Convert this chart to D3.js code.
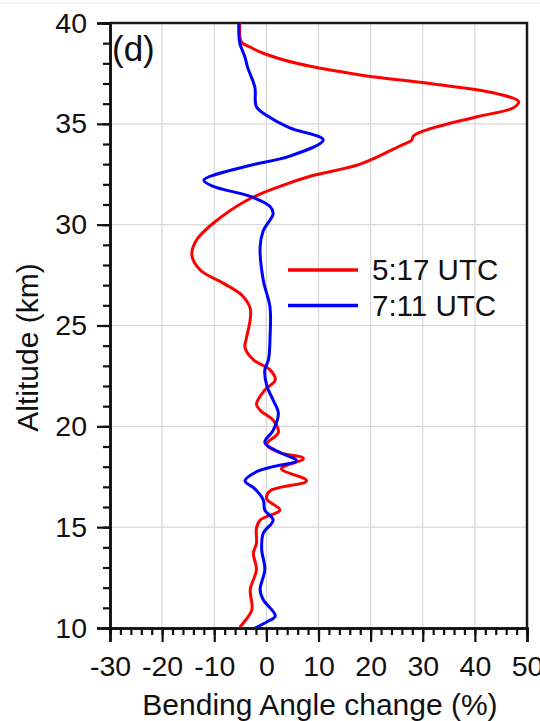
<!DOCTYPE html>
<html>
<head>
<meta charset="utf-8">
<script src="https://cdn.jsdelivr.net/npm/d3@7"></script>
<style>
body { margin: 0; background: #fff; }
text { font-family: Arial, "Liberation Sans", sans-serif; fill: #111; }
</style>
</head>
<body>
<div class="chart"></div>
<script>
// 5:17 UTC profile (altitude km, bending angle change %)
const redAlt = [40.0, 39.2, 39.0, 38.8, 38.5, 38.0, 37.4, 37.0, 36.5, 36.1, 35.8, 35.35, 34.7, 34.4, 34.2, 33.9, 33.0, 32.4, 31.9, 31.2, 30.07, 29.24, 28.5, 27.75, 27.1, 26.5, 25.85, 25.3, 24.4, 23.9, 23.3, 22.8, 22.3, 21.8, 21.1, 20.8, 20.3, 19.7, 19.1, 18.7, 18.4, 17.9, 17.3, 16.8, 16.4, 15.85, 15.35, 14.95, 14.2, 13.7, 12.9, 11.9, 10.9, 10.05]
const redVal = [-5.1, -5.0, -4.6, -3.1, -0.6, 5.8, 18.6, 31.4, 44.2, 48.4, 47.4, 40.4, 30.8, 28.2, 27.9, 25.6, 18.0, 8.4, 2.6, -3.8, -10.2, -13.4, -14.3, -12.7, -8.3, -4.7, -3.1, -3.1, -3.8, -4.1, -2.5, 0.7, 1.7, -0.3, -1.9, -1.2, 1.3, 2.3, 0.05, 2.6, 7.1, 2.9, 7.7, 0.7, 0.05, 2.6, -1.2, -1.9, -1.9, -2.5, -1.9, -3.1, -2.8, -5.1]

// 7:11 UTC profile
const blueAlt = [40.0, 39.0, 38.3, 37.8, 36.8, 35.85, 35.3, 34.8, 34.2, 33.4, 32.9, 32.2, 31.9, 31.4, 30.9, 30.55, 29.7, 28.9, 27.25, 25.9, 24.4, 23.3, 22.8, 22.0, 21.3, 20.65, 19.8, 19.2, 18.7, 18.3, 18.0, 17.75, 17.3, 16.9, 16.35, 15.85, 15.35, 14.7, 13.9, 12.9, 11.9, 11.4, 10.6, 10.3, 10.0]
const blueVal = [-5.3, -5.1, -4.1, -3.6, -2.2, -1.9, 0.8, 4.5, 10.9, 4.5, -3.8, -12.0, -10.2, -3.1, 0.7, 1.3, -0.6, -1.2, -0.6, 0.7, 0.7, 0.4, -0.3, 0.1, 1.3, 2.3, 1.3, -0.3, 2.6, 5.8, 1.3, -1.9, -4.1, -2.2, -0.6, -0.3, 1.3, -0.6, -0.9, -0.3, -1.2, -0.6, 1.7, 0.05, -2.2]

const seriesNames = ['5:17 UTC', '7:11 UTC']
const seriesColors = ['#ff0000', '#0000ff']
const xTicks = [-30, -20, -10, 0, 10, 20, 30, 40, 50]
const yTicks = [10, 15, 20, 25, 30, 35, 40]

const svgWidth = 540
const svgHeight = 721
const margin = {top: 23, right: 13, bottom: 93, left: 110}
const graphWidth = svgWidth - margin.left - margin.right
const graphHeight = svgHeight - margin.top - margin.bottom

const svg = d3.select('.chart')
    .append('svg')
    .attr('width', svgWidth)
    .attr('height', svgHeight)

// faint line left over from the source figure
svg.append('line')
    .attr('x1', 0).attr('x2', svgWidth)
    .attr('y1', 3).attr('y2', 3)
    .attr('stroke', '#eeeeee')

// partial glyph from neighbouring panel
svg.append('text')
    .attr('x', -9).attr('y', 673)
    .style('font-size', '28px')
    .text(')')

const graph = svg.append('g')
    .attr('transform', `translate(${margin.left},${margin.top})`)

const x = d3.scaleLinear().domain([-30, 50]).range([0, graphWidth])
const y = d3.scaleLinear().domain([10, 40]).range([graphHeight, 0])

// grid
graph.append('g').selectAll('line')
    .data(xTicks)
    .join('line')
    .attr('x1', d => x(d)).attr('x2', d => x(d))
    .attr('y1', 0).attr('y2', graphHeight)
    .attr('stroke', '#d8d8d8').attr('stroke-width', 1.2)
graph.append('g').selectAll('line')
    .data(yTicks)
    .join('line')
    .attr('x1', 0).attr('x2', graphWidth)
    .attr('y1', d => y(d)).attr('y2', d => y(d))
    .attr('stroke', '#d8d8d8').attr('stroke-width', 1.2)

// top & right frame
graph.append('path')
    .attr('d', `M0,0H${graphWidth}V${graphHeight}`)
    .attr('fill', 'none')
    .attr('stroke', '#1a1a1a')
    .attr('stroke-width', 2.5)

// curves
const clip = svg.append('clipPath').attr('id', 'plotclip')
clip.append('rect').attr('width', graphWidth).attr('height', graphHeight)

const lineGen = d3.line()
    .x(d => x(d[1]))
    .y(d => y(d[0]))
    .curve(d3.curveCatmullRom.alpha(0.5))

const series = [d3.zip(redAlt, redVal), d3.zip(blueAlt, blueVal)]
graph.append('g')
    .attr('clip-path', 'url(#plotclip)')
    .selectAll('path')
    .data(series)
    .join('path')
    .attr('d', d => lineGen(d))
    .attr('fill', 'none')
    .attr('stroke', (d, i) => seriesColors[i])
    .attr('stroke-width', 3)
    .attr('stroke-linejoin', 'round')

// axes
const xMinor = graph.append('g')
    .attr('transform', `translate(0,${graphHeight})`)
    .call(d3.axisBottom(x).tickValues(d3.range(-30, 51, 2)).tickSize(7).tickFormat(''))
const xAxis = graph.append('g')
    .attr('transform', `translate(0,${graphHeight})`)
    .call(d3.axisBottom(x).tickValues(xTicks).tickSize(14).tickPadding(14).tickFormat(d3.format('d')))
const yMinor = graph.append('g')
    .call(d3.axisLeft(y).tickValues(d3.range(10, 41, 1)).tickSize(7).tickFormat(''))
const yAxis = graph.append('g')
    .call(d3.axisLeft(y).tickValues(yTicks).tickSize(13).tickPadding(10))

;[xMinor, xAxis, yMinor, yAxis].forEach(a => {
    a.select('.domain').attr('stroke', '#111').attr('stroke-width', 2.5)
    a.selectAll('.tick line').attr('stroke', '#111').attr('stroke-width', 2.2)
})
xAxis.selectAll('text').style('font-size', '28.5px').attr('fill', '#111')
    .text(d => d < 0 ? '-' + Math.abs(d) : d)
yAxis.selectAll('text').style('font-size', '28.5px').attr('fill', '#111')

// axis titles
svg.append('text')
    .attr('x', 320)
    .attr('y', 715)
    .attr('text-anchor', 'middle')
    .style('font-size', '30px')
    .text('Bending Angle change (%)')
svg.append('text')
    .attr('transform', `translate(38,${margin.top + graphHeight / 2 + 22}) rotate(-90)`)
    .attr('text-anchor', 'middle')
    .style('font-size', '30px')
    .text('Altitude (km)')

// panel label
svg.append('text')
    .attr('x', 112).attr('y', 61)
    .style('font-size', '35px')
    .text('(d)')

// legend
const legend = svg.append('g')
    .selectAll('g')
    .data(seriesNames)
    .join('g')
    .attr('transform', (d, i) => `translate(288,${270 + i * 35.5})`)
legend.append('line')
    .attr('x1', 0).attr('x2', 70)
    .attr('stroke', (d, i) => seriesColors[i])
    .attr('stroke-width', 3.5)
legend.append('text')
    .attr('x', 84).attr('y', 10)
    .style('font-size', '29.5px')
    .text(d => d)
</script>
</body>
</html>
